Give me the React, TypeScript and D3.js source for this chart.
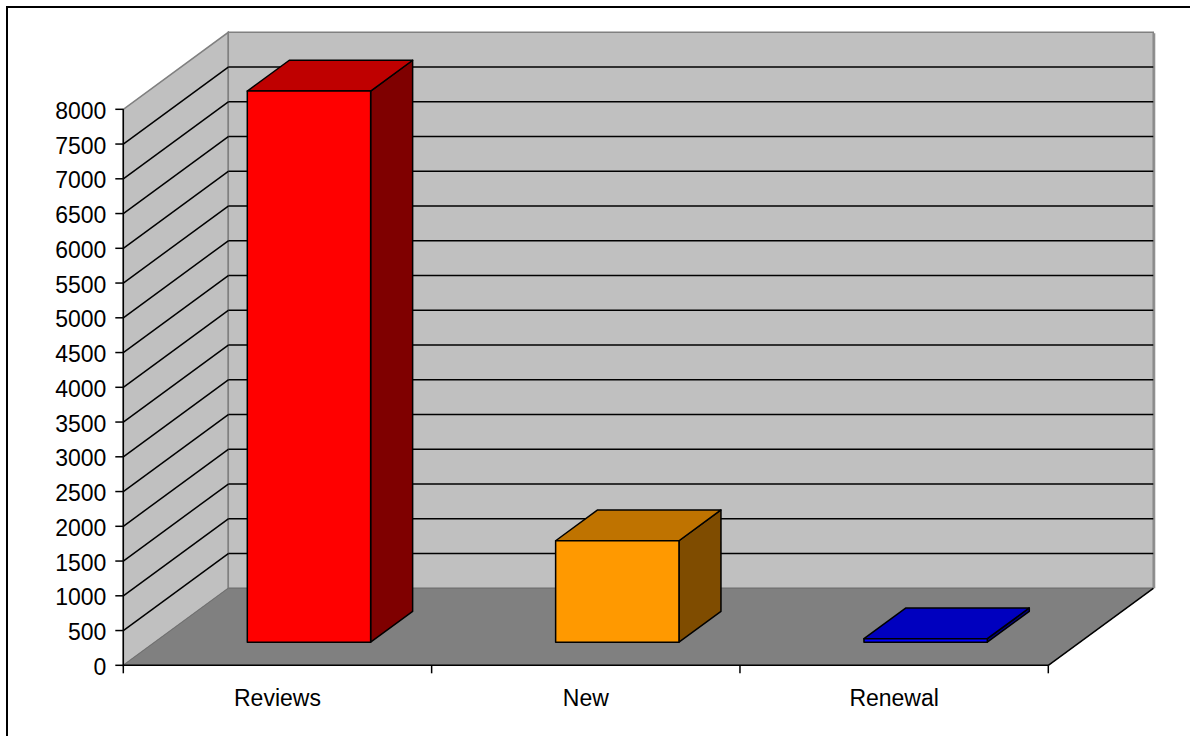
import React from "react";
import * as d3 from "d3";

// Category labels and their values
const categories: string[] = ["Reviews", "New", "Renewal"];
const values: number[] = [7930, 1460, 50];
// Face colours per bar: front, top, side
const frontColors: string[] = ["#FF0000", "#FF9900", "#0000FF"];
const topColors: string[] = ["#BF0000", "#BF7300", "#0000BF"];
const sideColors: string[] = ["#7F0000", "#7F4C00", "#00007F"];
// Value axis ticks
const yTicks: number[] = d3.range(0, 8001, 500);

const W = 1190;
const H = 736;

// Front plane of the plot and the depth offset of the 3D box
const X0 = 123.3;
const X1 = 1048.3;
const Y0 = 665.3;
const Y1 = 109.3;
const DX = 105;
const DY = -77;

const FONT = "'Liberation Sans', Arial, Helvetica, sans-serif";

export default function App() {
  const y = d3.scaleLinear().domain([0, 8000]).range([Y0, Y1]);
  const x = d3
    .scaleBand<string>()
    .domain(categories)
    .range([X0, X1])
    .paddingInner(0.6)
    .paddingOuter(0.3);
  const step = x.step();

  // project a point on the front plane (px, value) to depth fraction d
  const P = (px: number, v: number, d: number): [number, number] => [
    px + d * DX,
    y(v) + d * DY,
  ];
  const poly = (pts: [number, number][]) =>
    pts.map((p) => `${p[0]},${p[1]}`).join(" ");

  const dFront = 0.3;
  const dBack = 0.7;

  return (
    <svg
      width={W}
      height={H}
      style={{ position: "absolute", left: 0, top: 0, background: "#fff" }}
      fontFamily={FONT}
    >
      <rect x={0} y={0} width={W} height={H} fill="#fff" />
      <rect x={7} y={7} width={1200} height={760} fill="none" stroke="#000" strokeWidth={2} />

      {/* side wall */}
      <polygon
        points={poly([P(X0, 0, 0), P(X0, 8000, 0), P(X0, 8000, 1), P(X0, 0, 1)])}
        fill="#C0C0C0"
        stroke="#808080"
        strokeWidth={1.5}
      />
      {/* back wall */}
      <polygon
        points={poly([P(X0, 0, 1), P(X0, 8000, 1), P(X1, 8000, 1), P(X1, 0, 1)])}
        fill="#C0C0C0"
        stroke="#808080"
        strokeWidth={1.5}
      />
      <line
        x1={P(X1, 0, 1)[0] + 1}
        y1={P(X1, 0, 1)[1]}
        x2={P(X1, 8000, 1)[0] + 1}
        y2={P(X1, 8000, 1)[1] + 1}
        stroke="#909090"
        strokeWidth={2}
      />
      {/* floor */}
      <polygon
        points={poly([P(X0, 0, 0), P(X1, 0, 0), P(X1, 0, 1), P(X0, 0, 1)])}
        fill="#808080"
        stroke="#707070"
        strokeWidth={1}
      />

      {/* gridlines on side and back walls */}
      {yTicks
        .filter((v) => v > 0 && v < 8000)
        .map((v) => (
          <g key={`g${v}`}>
            <line
              x1={P(X0, v, 0)[0]}
              y1={P(X0, v, 0)[1]}
              x2={P(X0, v, 1)[0]}
              y2={P(X0, v, 1)[1]}
              stroke="#000"
              strokeWidth={1.5}
            />
            <line
              x1={P(X0, v, 1)[0]}
              y1={P(X0, v, 1)[1]}
              x2={P(X1, v, 1)[0]}
              y2={P(X1, v, 1)[1]}
              stroke="#000"
              strokeWidth={1.5}
            />
          </g>
        ))}

      {/* floor edges */}
      <line x1={X0} y1={Y0} x2={X1} y2={Y0} stroke="#000" strokeWidth={1.5} />
      <line
        x1={X1}
        y1={Y0}
        x2={P(X1, 0, 1)[0]}
        y2={P(X1, 0, 1)[1]}
        stroke="#000"
        strokeWidth={1.5}
      />

      {/* value axis */}
      <line x1={X0} y1={Y0} x2={X0} y2={Y1} stroke="#000" strokeWidth={1.5} />
      {yTicks.map((v) => (
        <g key={`t${v}`}>
          <line x1={X0 - 8} y1={y(v)} x2={X0} y2={y(v)} stroke="#000" strokeWidth={1.5} />
          <text
            x={X0 - 17}
            y={y(v) + 1.5}
            dy="0.35em"
            textAnchor="end"
            fontSize={23}
            fill="#000"
          >
            {v}
          </text>
        </g>
      ))}

      {/* category axis ticks and labels */}
      {d3.range(categories.length + 1).map((i) => (
        <line
          key={`c${i}`}
          x1={X0 + i * step}
          y1={Y0}
          x2={X0 + i * step}
          y2={Y0 + 8}
          stroke="#000"
          strokeWidth={1.5}
        />
      ))}
      {categories.map((c) => (
        <text
          key={`l${c}`}
          x={(x(c) as number) + x.bandwidth() / 2}
          y={705.5}
          textAnchor="middle"
          fontSize={23}
          fill="#000"
        >
          {c}
        </text>
      ))}

      {/* bars */}
      {categories.map((c, i) => {
        const l = x(c) as number;
        const r = l + x.bandwidth();
        const v = values[i];
        const front = [P(l, 0, dFront), P(r, 0, dFront), P(r, v, dFront), P(l, v, dFront)];
        const top = [P(l, v, dFront), P(r, v, dFront), P(r, v, dBack), P(l, v, dBack)];
        const side = [P(r, 0, dFront), P(r, 0, dBack), P(r, v, dBack), P(r, v, dFront)];
        return (
          <g key={`b${c}`} stroke="#000" strokeWidth={1.5} strokeLinejoin="round">
            <polygon points={poly(side)} fill={sideColors[i]} />
            <polygon points={poly(top)} fill={topColors[i]} />
            <polygon points={poly(front)} fill={frontColors[i]} />
          </g>
        );
      })}
    </svg>
  );
}
